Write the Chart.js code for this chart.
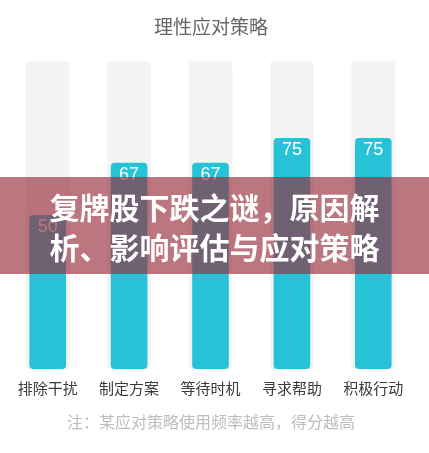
<!DOCTYPE html>
<html>
<head>
<meta charset="utf-8">
<script src="https://cdn.jsdelivr.net/npm/chart.js@4"></script>
<style>
  html, body { margin: 0; padding: 0; background: #fff; }
  #wrap { position: relative; width: 429px; height: 453px; }
  #banner {
    position: absolute; left: 0; top: 177px; width: 429px; height: 97px;
    background: rgba(150, 45, 60, 0.65);
    color: #fff; font-family: "Noto Sans CJK SC", sans-serif; font-weight: bold;
    font-size: 30px; line-height: 40px; text-align: center;
    display: flex; flex-direction: column; justify-content: center;
  }
</style>
</head>
<body>
<div id="wrap">
  <canvas id="chart" width="429" height="453"></canvas>
  <div id="banner"><div>复牌股下跌之谜，原因解</div><div>析、影响评估与应对策略</div></div>
</div>
<script>
const categories = ['排除干扰', '制定方案', '等待时机', '寻求帮助', '积极行动'];
const scores = [50, 67, 67, 75, 75];
const fullScore = [100, 100, 100, 100, 100];
const chartTitle = '理性应对策略';
const chartNote = '注：某应对策略使用频率越高，得分越高';

// title, note and the white numbers at the top of each bar
const textPlugin = {
  id: 'texts',
  afterDatasetsDraw(chart) {
    const { ctx } = chart;
    const meta = chart.getDatasetMeta(0);
    ctx.save();
    ctx.fillStyle = '#fff';
    ctx.font = '18px Arial, "Liberation Sans", sans-serif';
    ctx.textAlign = 'center';
    ctx.textBaseline = 'middle';
    meta.data.forEach((bar, i) => {
      ctx.fillText(String(scores[i]), bar.x, bar.y + 12);
    });
    ctx.restore();
  },
  afterDraw(chart) {
    const { ctx } = chart;
    ctx.save();
    ctx.textAlign = 'center';
    ctx.textBaseline = 'middle';
    ctx.fillStyle = '#666';
    ctx.font = '19px "Noto Sans CJK SC", sans-serif';
    ctx.fillText(chartTitle, 211, 27);
    ctx.fillStyle = '#bdbdbd';
    ctx.font = '16px "Noto Sans CJK SC", sans-serif';
    ctx.fillText(chartNote, 211, 422);
    ctx.restore();
  }
};

new Chart(document.getElementById('chart'), {
  type: 'bar',
  data: {
    labels: categories,
    datasets: [
      {
        data: scores,
        backgroundColor: '#26C3D8',
        barPercentage: 0.45,
        categoryPercentage: 1,
        borderRadius: 4,
        borderSkipped: false,
        order: 1
      },
      {
        data: fullScore,
        backgroundColor: '#F4F4F4',
        barPercentage: 0.54,
        categoryPercentage: 1,
        borderRadius: 4,
        borderSkipped: false,
        order: 2
      }
    ]
  },
  options: {
    responsive: false,
    animation: false,
    layout: { padding: { top: 61, bottom: 46, left: 7, right: 15 } },
    plugins: { legend: { display: false }, tooltip: { enabled: false } },
    scales: {
      x: {
        stacked: true,
        grid: { display: false, drawTicks: false },
        border: { display: false },
        ticks: {
          padding: 10,
          color: '#3a3a3a',
          font: { size: 15, family: '"Noto Sans CJK SC", sans-serif' }
        }
      },
      y: { display: false, min: 0, max: 100, stacked: false }
    }
  },
  plugins: [textPlugin]
});
</script>
</body>
</html>
